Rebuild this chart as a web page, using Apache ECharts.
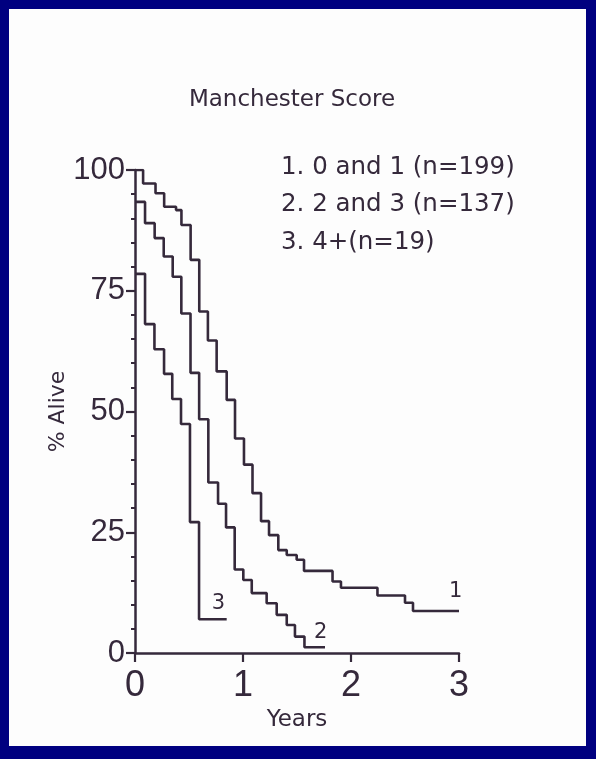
<!DOCTYPE html>
<html>
<head>
<meta charset="utf-8">
<script src="https://cdn.jsdelivr.net/npm/echarts@6/dist/echarts.min.js"></script>
<style>
  html, body { margin: 0; padding: 0; width: 596px; height: 759px; background: #000080; overflow: hidden; }
  #panel { position: absolute; left: 9px; top: 9px; width: 577px; height: 737px; background: #fdfdfd; }
  #chart { position: absolute; left: 0; top: 0; width: 596px; height: 759px; }
</style>
</head>
<body>
<div id="panel"></div>
<div id="chart"></div>
<script>
// Survival (% alive) by Manchester score group, life-table step curves
const years1 = [0, 0.075, 0.19, 0.27, 0.38, 0.43, 0.515, 0.595, 0.675, 0.756, 0.849, 0.926, 1.009, 1.088, 1.167, 1.241, 1.327, 1.405, 1.497, 1.565, 1.829, 1.907, 2.245, 2.5, 2.574, 3.0];
const alive1 = [100, 97.2, 95.2, 92.4, 91.7, 88.6, 81.4, 70.7, 64.7, 58.3, 52.4, 44.4, 39.0, 33.1, 27.3, 24.4, 21.3, 20.3, 19.3, 17.0, 14.8, 13.5, 11.9, 10.4, 8.7, 8.7];

const years2 = [0, 0.093, 0.182, 0.266, 0.349, 0.429, 0.514, 0.594, 0.679, 0.769, 0.843, 0.923, 1.003, 1.081, 1.219, 1.312, 1.405, 1.481, 1.569, 1.759];
const alive2 = [93.4, 89.0, 85.9, 82.1, 77.9, 70.3, 58.0, 48.4, 35.3, 30.9, 26.0, 17.3, 15.1, 12.4, 10.3, 7.9, 5.8, 3.4, 1.2, 1.2];

const years3 = [0, 0.093, 0.18, 0.269, 0.345, 0.426, 0.509, 0.593, 0.849];
const alive3 = [78.5, 68.1, 62.9, 57.8, 52.6, 47.4, 27.1, 7.0, 7.0];

const curveNames = ['1', '2', '3'];
const legendLines = ['1. 0 and 1 (n=199)', '2. 2 and 3 (n=137)', '3. 4+(n=19)'];
const xTicks = [0, 1, 2, 3];
const yTicks = [0, 25, 50, 75, 100];

const ink = '#35293b';
const curves = [[years1, alive1], [years2, alive2], [years3, alive3]];
// shift of each group number from the end of its curve
const labelOffsets = [[-18, -19], [-19, -15], [-23, -16]];

const chart = echarts.init(document.getElementById('chart'), null, { renderer: 'canvas' });

const lineSeries = curves.map(([xs, ys], i) => ({
  name: curveNames[i],
  type: 'line',
  step: 'end',
  showSymbol: false,
  silent: true,
  lineStyle: { color: ink, width: 2.6 },
  endLabel: {
    show: true,
    formatter: curveNames[i],
    offset: labelOffsets[i],
    color: ink,
    fontFamily: 'DejaVu Sans',
    fontSize: 21
  },
  data: xs.map((x, k) => [x, ys[k]])
}));

chart.setOption({
  animation: false,
  backgroundColor: 'transparent',
  grid: { left: 135, top: 170, right: 137, bottom: 106, containLabel: false },
  title: {
    text: 'Manchester Score',
    left: 287,
    top: 84,
    textAlign: 'center',
    textStyle: { color: ink, fontFamily: 'DejaVu Sans', fontSize: 23, fontWeight: 'normal' }
  },
  graphic: legendLines.map((t, i) => ({
    type: 'text',
    left: 281,
    top: 155 + i * 37.5,
    style: { text: t, fill: ink, font: '24.5px "DejaVu Sans"' }
  })),
  xAxis: {
    type: 'value',
    min: 0,
    max: 3,
    interval: 1,
    name: 'Years',
    nameLocation: 'middle',
    nameGap: 56,
    nameTextStyle: { color: ink, fontFamily: 'DejaVu Sans', fontSize: 23 },
    axisLine: { show: true, lineStyle: { color: ink, width: 2.5 } },
    axisTick: { show: true, inside: false, length: 9, lineStyle: { color: ink, width: 2.2 } },
    axisLabel: {
      margin: 15,
      color: ink,
      fontFamily: 'Liberation Sans',
      fontSize: 36,
      formatter: v => (xTicks.includes(v) ? String(v) : '')
    },
    splitLine: { show: false }
  },
  yAxis: {
    type: 'value',
    min: 0,
    max: 100,
    interval: 25,
    name: '% Alive',
    nameLocation: 'middle',
    nameRotate: 90,
    nameGap: 66,
    nameMoveOverlap: false,
    nameTextStyle: { color: ink, fontFamily: 'DejaVu Sans', fontSize: 22 },
    axisLine: { show: true, lineStyle: { color: ink, width: 2.5 } },
    axisTick: { show: true, inside: false, length: 9, lineStyle: { color: ink, width: 2.2 } },
    minorTick: { show: true, splitNumber: 5, length: 4, lineStyle: { color: ink, width: 2 } },
    axisLabel: {
      margin: 10,
      color: ink,
      fontFamily: 'Liberation Sans',
      fontSize: 31,
      formatter: v => (yTicks.includes(v) ? String(v) : '')
    },
    splitLine: { show: false }
  },
  series: lineSeries
});
</script>
</body>
</html>
